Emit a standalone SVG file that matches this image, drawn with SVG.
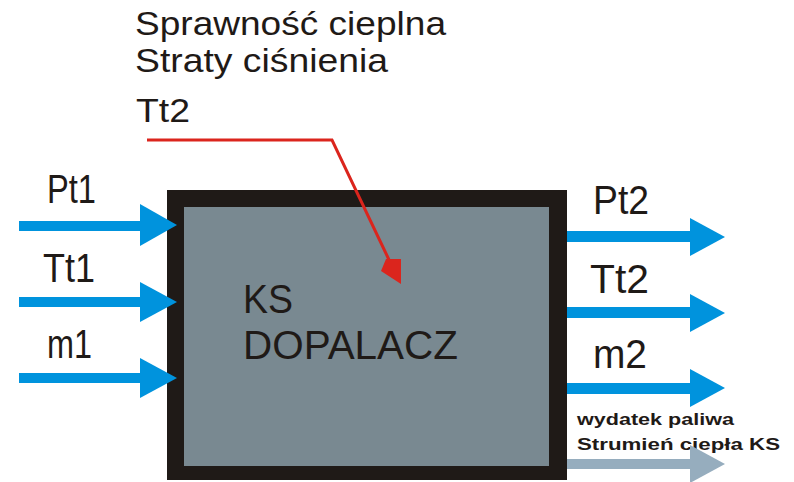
<svg xmlns="http://www.w3.org/2000/svg" width="794" height="482" viewBox="0 0 794 482">
<style>
.lbl{font-family:"Liberation Sans",Arial,sans-serif;fill:#1f1a17}
.big{font-size:41px}
.top{font-size:33px}
.small{font-size:17px;font-weight:bold}
.blue{fill:#0093dd}
.gray{fill:#96adbe}
.red{fill:#db251d}
</style>
<rect width="794" height="482" fill="#ffffff"/>
<g id="node-ks">
<rect x="167" y="190" width="400" height="290" fill="#1f1a17"/>
<rect x="184" y="207" width="365" height="259" fill="#798991"/>
<text class="lbl big" x="243" y="313" textLength="50" lengthAdjust="spacingAndGlyphs">KS</text>
<text class="lbl big" x="243" y="359" textLength="215" lengthAdjust="spacingAndGlyphs">DOPALACZ</text>
</g>
<g id="labels-top">
<text class="lbl top" x="135" y="35" textLength="311" lengthAdjust="spacingAndGlyphs">Sprawność cieplna</text>
<text class="lbl top" x="135" y="72" textLength="253" lengthAdjust="spacingAndGlyphs">Straty ciśnienia</text>
<text class="lbl top" x="136" y="122" textLength="54" lengthAdjust="spacingAndGlyphs">Tt2</text>
</g>
<g id="labels-in">
<text class="lbl big" x="47" y="203" textLength="49" lengthAdjust="spacingAndGlyphs">Pt1</text>
<text class="lbl big" x="43" y="282" textLength="52" lengthAdjust="spacingAndGlyphs">Tt1</text>
<text class="lbl big" x="47" y="358" textLength="45" lengthAdjust="spacingAndGlyphs">m1</text>
</g>
<g id="labels-out">
<text class="lbl big" x="593" y="214" textLength="56" lengthAdjust="spacingAndGlyphs">Pt2</text>
<text class="lbl big" x="590" y="293" textLength="59" lengthAdjust="spacingAndGlyphs">Tt2</text>
<text class="lbl big" x="593" y="368" textLength="54" lengthAdjust="spacingAndGlyphs">m2</text>
<text class="lbl small" x="577" y="425" textLength="157" lengthAdjust="spacingAndGlyphs">wydatek paliwa</text>
<text class="lbl small" x="577" y="450" textLength="203" lengthAdjust="spacingAndGlyphs">Strumień ciepła KS</text>
</g>
<g id="connectors">
<g class="blue">
<rect x="19" y="221" width="122" height="10"/>
<polygon points="140,204 177,225 140,246"/>
<rect x="19" y="297" width="122" height="10"/>
<polygon points="140,282 177,302 140,322"/>
<rect x="19" y="373" width="122" height="10"/>
<polygon points="140,358 177,378 140,398"/>
<rect x="567" y="231" width="124" height="11"/>
<polygon points="690,218 725,237 690,256"/>
<rect x="567" y="307" width="124" height="11"/>
<polygon points="690,294 725,313 690,332"/>
<rect x="567" y="383" width="124" height="11"/>
<polygon points="690,369 725,388 690,407"/>
</g>
<g class="gray">
<rect x="567" y="459" width="124" height="10"/>
<polygon points="690,445 725,464 690,483"/>
</g>
<g class="red">
<polyline points="147,140 332,140 391,264" fill="none" stroke="#db251d" stroke-width="3"/>
<polygon points="386,259 401,259 401,284 381,271"/>
</g>
</g>
</svg>
